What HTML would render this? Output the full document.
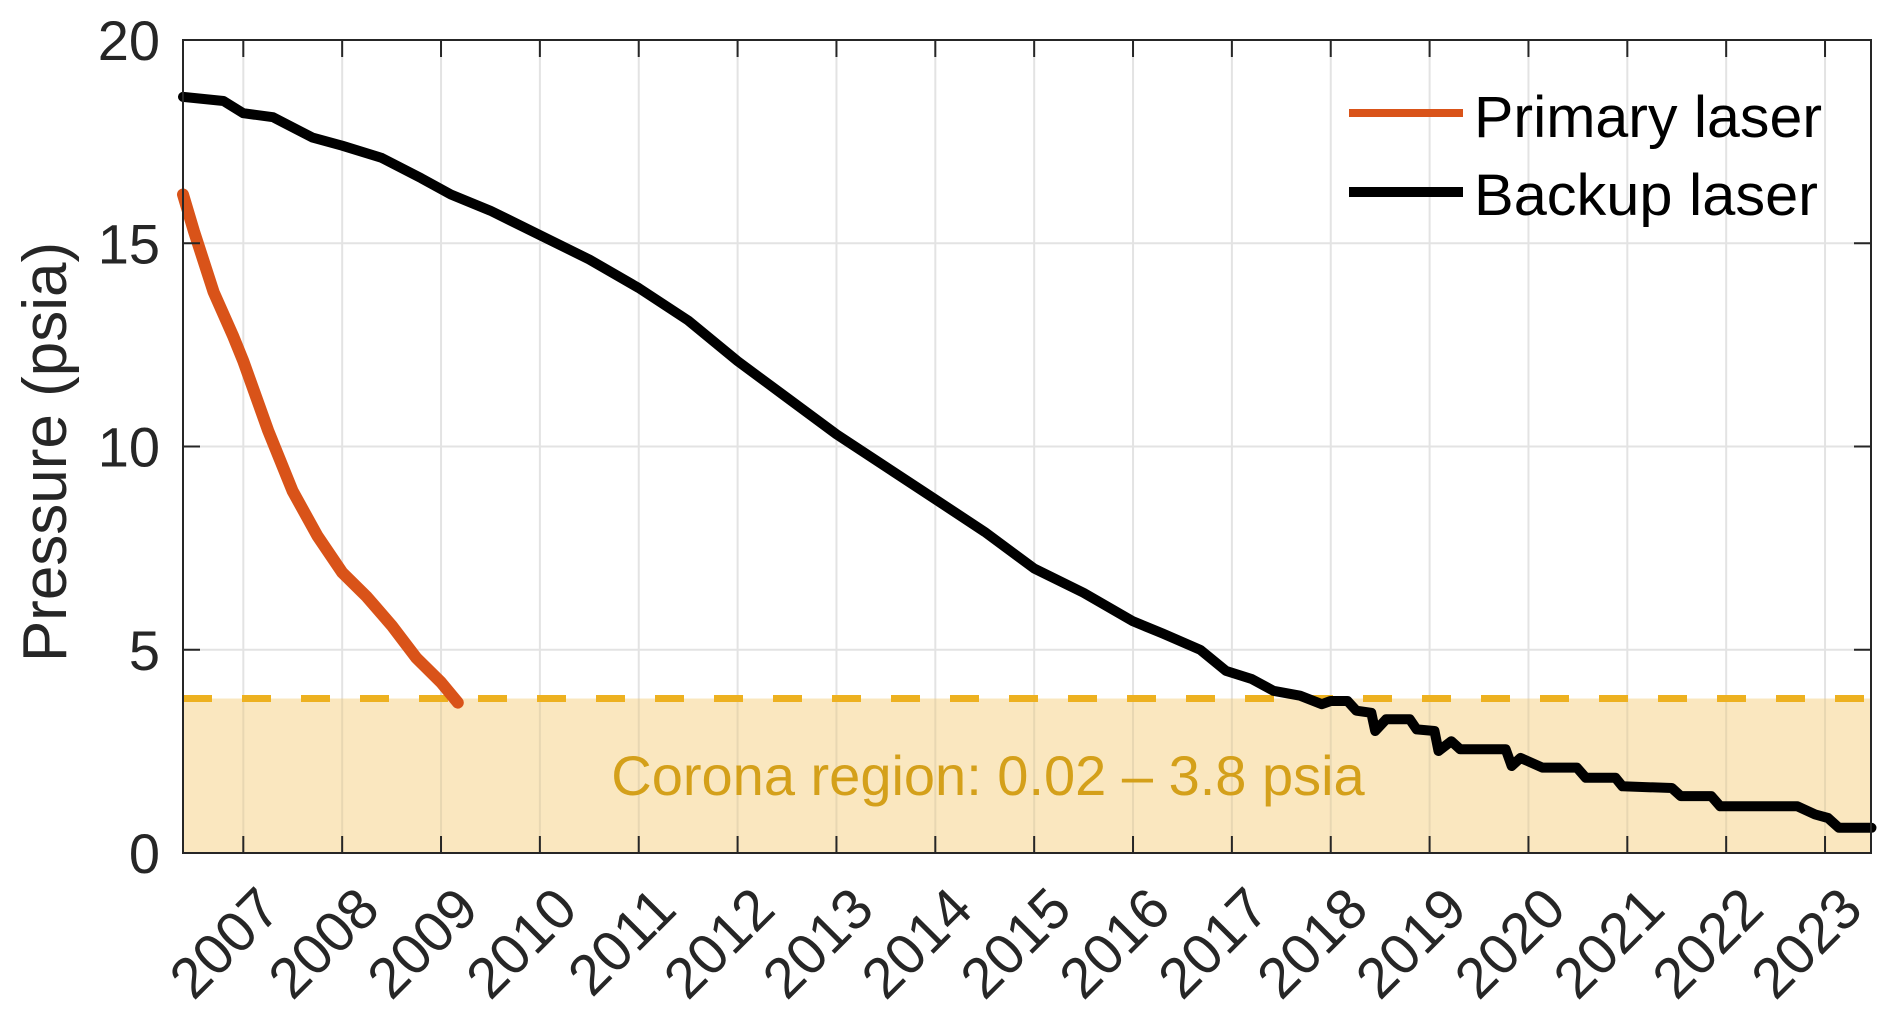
<!DOCTYPE html>
<html><head><meta charset="utf-8"><style>
html,body{margin:0;padding:0;background:#fff;}
svg{display:block;font-family:"Liberation Sans",Arial,sans-serif;}
</style></head><body>
<svg id="chart" width="1892" height="1032" viewBox="0 0 1892 1032" xmlns="http://www.w3.org/2000/svg">
<g id="grid"></g>
<rect id="corona" fill="#FAE7BF"></rect>
<g id="vgrid2"></g>
<line id="corona-line" stroke="#EDB120" stroke-width="7" stroke-dasharray="29,30"></line>
<text id="corona-label" x="988" y="795" font-size="56" fill="#D4A01A" text-anchor="middle">Corona region: 0.02 – 3.8 psia</text>
<g id="series"></g>
<g id="axes"></g>
<g id="legend">
  <line x1="1349" y1="113" x2="1463" y2="113" stroke="#D95319" stroke-width="8"/>
  <text x="1474" y="137" font-size="58" fill="#000" textLength="348" lengthAdjust="spacingAndGlyphs">Primary laser</text>
  <line x1="1349" y1="192" x2="1463" y2="192" stroke="#000" stroke-width="10"/>
  <text x="1474" y="215" font-size="58" fill="#000" textLength="344" lengthAdjust="spacingAndGlyphs">Backup laser</text>
</g>
<text transform="translate(66,452) rotate(-90)" font-size="62" fill="#262626" text-anchor="middle">Pressure (psia)</text>
</svg>
<script>
const xTickYears = [2007,2008,2009,2010,2011,2012,2013,2014,2015,2016,2017,2018,2019,2020,2021,2022,2023];
const yTicks = [0,5,10,15,20];
const coronaMax = 3.8;
const primaryYears = [2006.39,2006.5,2006.7,2006.9,2007,2007.25,2007.5,2007.75,2008,2008.25,2008.5,2008.75,2009,2009.17];
const primaryPsia  = [16.2,15.3,13.8,12.7,12.1,10.4,8.9,7.8,6.9,6.3,5.6,4.8,4.2,3.7];
const backupYears = [2006.39,2006.8,2007.0,2007.3,2007.7,2008,2008.4,2008.8,2009.1,2009.5,2010,2010.5,2011,2011.5,2012,2012.5,2013,2013.5,2014,2014.5,2015,2015.5,2016,2016.3,2016.68,2016.94,2017.2,2017.42,2017.69,2017.91,2018.0,2018.17,2018.26,2018.41,2018.45,2018.56,2018.8,2018.87,2019.05,2019.09,2019.22,2019.31,2019.77,2019.83,2019.92,2020.14,2020.49,2020.58,2020.88,2020.95,2021.45,2021.54,2021.85,2021.94,2022.72,2022.9,2023.03,2023.14,2023.47];
const backupPsia  = [18.6,18.5,18.2,18.1,17.6,17.4,17.1,16.6,16.2,15.8,15.2,14.6,13.9,13.1,12.1,11.2,10.3,9.5,8.7,7.9,7.0,6.4,5.7,5.4,5.0,4.48,4.28,3.99,3.87,3.66,3.74,3.74,3.5,3.45,3.0,3.29,3.29,3.04,3.0,2.51,2.75,2.55,2.55,2.14,2.34,2.1,2.1,1.85,1.85,1.64,1.6,1.4,1.4,1.15,1.15,0.95,0.86,0.62,0.62];

const NS='http://www.w3.org/2000/svg';
const L=183,R=1871,T=40,B=853;
const X0=2006.39,X1=2023.465,Y0=0,Y1=20;
const xs=v=>L+(v-X0)/(X1-X0)*(R-L);
const ys=v=>B-(v-Y0)/(Y1-Y0)*(B-T);
function mk(tag,attrs,parent){const e=document.createElementNS(NS,tag);for(const k in attrs)e.setAttribute(k,attrs[k]);parent.appendChild(e);return e;}

const grid=document.getElementById('grid'), g2=document.getElementById('vgrid2');
xTickYears.forEach(y=>{
  const gl=mk('line',{x1:xs(y),x2:xs(y),y1:T,y2:B,stroke:'#e3e3e3','stroke-width':2},grid);
  
  
  const gl2=mk('line',{x1:xs(y),x2:xs(y),y1:ys(coronaMax),y2:B,stroke:'#e8d7b2','stroke-width':2},g2);
  
  
});
yTicks.forEach(v=>{
  const gl=mk('line',{x1:L,x2:R,y1:ys(v),y2:ys(v),stroke:'#e3e3e3','stroke-width':2},grid);
  
  
});
const cr=document.getElementById('corona');
cr.setAttribute('x',L);cr.setAttribute('y',ys(coronaMax));cr.setAttribute('width',R-L);cr.setAttribute('height',B-ys(coronaMax));
const cl=document.getElementById('corona-line');
cl.setAttribute('x1',L);cl.setAttribute('x2',R);cl.setAttribute('y1',ys(coronaMax));cl.setAttribute('y2',ys(coronaMax));

const ser=document.getElementById('series');
function path(xa,ya){return xa.map((x,i)=>(i?'L':'M')+xs(x).toFixed(1)+','+ys(ya[i]).toFixed(1)).join(' ');}
const pb=mk('path',{d:path(backupYears,backupPsia),fill:'none',stroke:'#000','stroke-width':10,'stroke-linejoin':'round','stroke-linecap':'round'},ser);


const pp=mk('path',{d:path(primaryYears,primaryPsia),fill:'none',stroke:'#D95319','stroke-width':12,'stroke-linejoin':'round','stroke-linecap':'round'},ser);



const ax=document.getElementById('axes');
const box=mk('rect',{x:L,y:T,width:R-L,height:B-T,fill:'none',stroke:'#262626','stroke-width':2},ax);


xTickYears.forEach(y=>{
  const x=xs(y);
  mk('line',{x1:x,x2:x,y1:B,y2:B-17,stroke:'#262626','stroke-width':2},ax);
  mk('line',{x1:x,x2:x,y1:T,y2:T+17,stroke:'#262626','stroke-width':2},ax);
  const t=mk('text',{transform:`translate(${x+40},${912}) rotate(-45)`,'font-size':57,fill:'#262626','text-anchor':'end'},ax);
  
  
  t.textContent=y;
});
yTicks.forEach(v=>{
  const y=ys(v);
  mk('line',{x1:L,x2:L+17,y1:y,y2:y,stroke:'#262626','stroke-width':2},ax);
  mk('line',{x1:R,x2:R-17,y1:y,y2:y,stroke:'#262626','stroke-width':2},ax);
  const t=mk('text',{x:160,y:y+20,'font-size':56,fill:'#262626','text-anchor':'end'},ax);
  
  
  t.textContent=v;
});
</script>
</body></html>
